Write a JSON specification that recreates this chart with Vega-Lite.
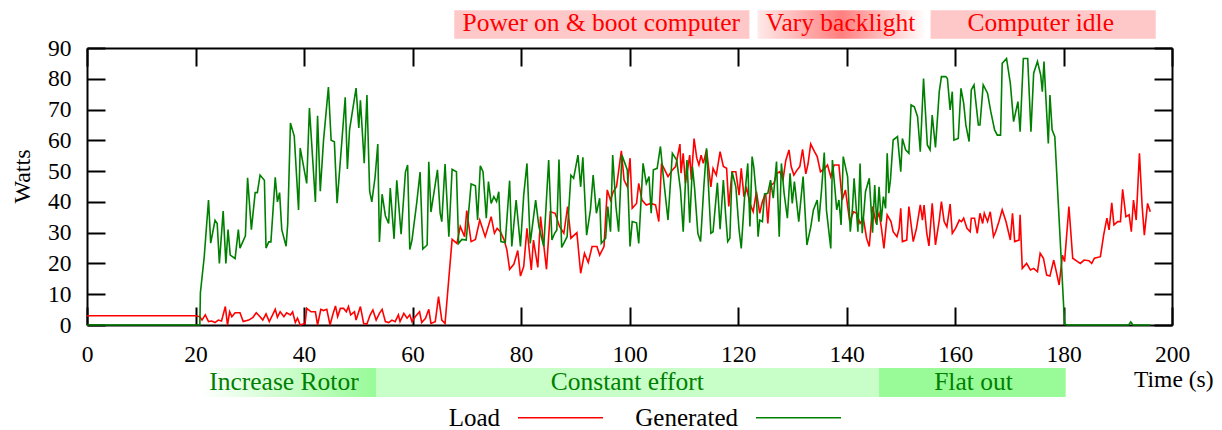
{
  "$schema": "https://vega.github.io/schema/vega-lite/v6.json",
  "width": 1085,
  "height": 277,
  "autosize": {"type": "none"},
  "padding": {"left": 87, "top": 48, "right": 50, "bottom": 105},
  "background": "white",
  "config": {
    "font": "Liberation Serif, Times New Roman, serif",
    "view": {"stroke": null},
    "text": {"font": "Liberation Serif, Times New Roman, serif"},
    "axis": {
      "domainColor": "black", "domainWidth": 2, "tickColor": "black", "tickWidth": 2, "tickSize": -18,
      "labelColor": "black", "labelFontSize": 23.5, "labelFont": "Liberation Serif, Times New Roman, serif", "grid": false,
      "titleColor": "black", "titleFont": "Liberation Serif, Times New Roman, serif", "titleFontSize": 24, "titleFontWeight": "normal",
      "labelFlush": false, "labelOverlap": false
    },
    "legend": {"labelFont": "Liberation Serif, Times New Roman, serif"}
  },
  "resolve": {"axis": {"x": "independent", "y": "independent"}},
  "datasets": {
    "tops": [
      {"label": "Power on & boot computer", "start": 67.7, "end": 122.1, "mid": 94.8},
      {"label": "Vary backlight", "start": 123.6, "end": 154.6, "mid": 138.9},
      {"label": "Computer idle", "start": 155.5, "end": 197.0, "mid": 175.8}
    ],
    "bottoms": [
      {"label": "Increase Rotor", "start": 20.8, "end": 53.3, "mid": 36.3},
      {"label": "Constant effort", "start": 53.3, "end": 146.0, "mid": 99.6},
      {"label": "Flat out", "start": 146.0, "end": 180.4, "mid": 163.4}
    ],
    "power": [
      {"t":0,"s":"Load","w":3},{"t":20,"s":"Load","w":3},{"t":20.8,"s":"Load","w":2.7},{"t":21.2,"s":"Load","w":1.6},{"t":21.8,"s":"Load","w":3.3},{"t":22.4,"s":"Load","w":1.1},{"t":23.0,"s":"Load","w":1.3},{"t":23.6,"s":"Load","w":0.8},{"t":24.2,"s":"Load","w":1.6},{"t":24.8,"s":"Load","w":1.3},{"t":25.5,"s":"Load","w":6},{"t":25.9,"s":"Load","w":0},{"t":26.3,"s":"Load","w":4.3},{"t":26.7,"s":"Load","w":2.7},{"t":27.3,"s":"Load","w":4},{"t":28.2,"s":"Load","w":4},{"t":28.8,"s":"Load","w":1.1},{"t":29.8,"s":"Load","w":1.6},{"t":30.6,"s":"Load","w":2.5},{"t":31.2,"s":"Load","w":4},{"t":31.9,"s":"Load","w":2.7},{"t":32.4,"s":"Load","w":1.6},{"t":33.0,"s":"Load","w":3.6},{"t":33.6,"s":"Load","w":1.1},{"t":34.3,"s":"Load","w":3.6},{"t":34.7,"s":"Load","w":5.1},{"t":35.1,"s":"Load","w":2.5},{"t":35.6,"s":"Load","w":4.3},{"t":36.3,"s":"Load","w":2.7},{"t":36.8,"s":"Load","w":4},{"t":37.5,"s":"Load","w":3.3},{"t":37.9,"s":"Load","w":4.3},{"t":38.4,"s":"Load","w":0.8},{"t":38.8,"s":"Load","w":2.2},{"t":39.3,"s":"Load","w":0},{"t":40.2,"s":"Load","w":0.5},{"t":40.5,"s":"Load","w":5.4},{"t":41.3,"s":"Load","w":4.3},{"t":42.1,"s":"Load","w":4.3},{"t":42.5,"s":"Load","w":0},{"t":43.1,"s":"Load","w":5.1},{"t":43.6,"s":"Load","w":4.7},{"t":44.2,"s":"Load","w":5.1},{"t":44.8,"s":"Load","w":0},{"t":45.3,"s":"Load","w":3.3},{"t":45.8,"s":"Load","w":6.2},{"t":46.2,"s":"Load","w":2.7},{"t":46.7,"s":"Load","w":5.4},{"t":47.3,"s":"Load","w":5.4},{"t":47.8,"s":"Load","w":4.3},{"t":48.2,"s":"Load","w":6},{"t":48.6,"s":"Load","w":3.3},{"t":49.3,"s":"Load","w":4.3},{"t":49.6,"s":"Load","w":1.6},{"t":50.4,"s":"Load","w":6},{"t":51.0,"s":"Load","w":0.5},{"t":51.6,"s":"Load","w":0.3},{"t":52.2,"s":"Load","w":3.3},{"t":52.7,"s":"Load","w":4.9},{"t":53.3,"s":"Load","w":1.6},{"t":53.9,"s":"Load","w":3.8},{"t":54.4,"s":"Load","w":5.1},{"t":55.0,"s":"Load","w":1.1},{"t":55.6,"s":"Load","w":0.8},{"t":56.2,"s":"Load","w":1.6},{"t":56.8,"s":"Load","w":1.1},{"t":57.4,"s":"Load","w":3.3},{"t":57.7,"s":"Load","w":1.1},{"t":58.4,"s":"Load","w":3.8},{"t":59.0,"s":"Load","w":2.2},{"t":59.5,"s":"Load","w":3.3},{"t":59.9,"s":"Load","w":1.1},{"t":60.5,"s":"Load","w":2.7},{"t":61.3,"s":"Load","w":4.3},{"t":61.7,"s":"Load","w":0.8},{"t":62.4,"s":"Load","w":2.2},{"t":63.0,"s":"Load","w":5.1},{"t":63.4,"s":"Load","w":0.5},{"t":64.2,"s":"Load","w":1.1},{"t":64.8,"s":"Load","w":9.2},{"t":65.4,"s":"Load","w":1.6},{"t":66.0,"s":"Load","w":0.5},{"t":67.3,"s":"Load","w":27.8},{"t":68.2,"s":"Load","w":26.5},{"t":68.8,"s":"Load","w":32},{"t":69.6,"s":"Load","w":28.7},{"t":70.0,"s":"Load","w":37.2},{"t":70.8,"s":"Load","w":27.1},{"t":71.6,"s":"Load","w":27.8},{"t":72.4,"s":"Load","w":34.1},{"t":73.4,"s":"Load","w":28.7},{"t":74.5,"s":"Load","w":35.2},{"t":75.1,"s":"Load","w":29.8},{"t":75.6,"s":"Load","w":31.4},{"t":76.2,"s":"Load","w":30.3},{"t":76.9,"s":"Load","w":27.6},{"t":77.4,"s":"Load","w":24.4},{"t":77.9,"s":"Load","w":18.1},{"t":78.7,"s":"Load","w":19.8},{"t":79.4,"s":"Load","w":24.2},{"t":79.9,"s":"Load","w":15.9},{"t":80.5,"s":"Load","w":19},{"t":81.1,"s":"Load","w":31.4},{"t":81.9,"s":"Load","w":17.9},{"t":82.3,"s":"Load","w":27.6},{"t":83.1,"s":"Load","w":18.7},{"t":83.6,"s":"Load","w":35.2},{"t":84.7,"s":"Load","w":18.1},{"t":85.4,"s":"Load","w":36.8},{"t":86.3,"s":"Load","w":36.3},{"t":87.1,"s":"Load","w":32},{"t":87.9,"s":"Load","w":29.8},{"t":88.6,"s":"Load","w":38.5},{"t":89.2,"s":"Load","w":28.2},{"t":90.3,"s":"Load","w":30},{"t":91.0,"s":"Load","w":16.8},{"t":91.7,"s":"Load","w":23.3},{"t":92.4,"s":"Load","w":20.3},{"t":93.1,"s":"Load","w":25.5},{"t":94.0,"s":"Load","w":25.5},{"t":94.5,"s":"Load","w":22.7},{"t":95.3,"s":"Load","w":25.5},{"t":95.9,"s":"Load","w":43.9},{"t":96.5,"s":"Load","w":40.6},{"t":97.0,"s":"Load","w":43.3},{"t":97.6,"s":"Load","w":44.9},{"t":98.5,"s":"Load","w":56.6},{"t":99.0,"s":"Load","w":47.1},{"t":99.6,"s":"Load","w":44.9},{"t":100.1,"s":"Load","w":54.2},{"t":100.5,"s":"Load","w":37.9},{"t":101.3,"s":"Load","w":39.5},{"t":101.7,"s":"Load","w":46},{"t":102.3,"s":"Load","w":40.6},{"t":103.1,"s":"Load","w":39},{"t":103.9,"s":"Load","w":39.5},{"t":104.8,"s":"Load","w":39},{"t":105.4,"s":"Load","w":33.6},{"t":105.9,"s":"Load","w":52.5},{"t":107.1,"s":"Load","w":48.2},{"t":107.9,"s":"Load","w":50.4},{"t":108.5,"s":"Load","w":51.5},{"t":109.3,"s":"Load","w":58.8},{"t":109.5,"s":"Load","w":49.3},{"t":109.9,"s":"Load","w":55.8},{"t":110.3,"s":"Load","w":46},{"t":110.8,"s":"Load","w":51.5},{"t":111.1,"s":"Load","w":55.2},{"t":111.4,"s":"Load","w":47.1},{"t":111.9,"s":"Load","w":60.6},{"t":112.4,"s":"Load","w":54.2},{"t":112.8,"s":"Load","w":52},{"t":113.2,"s":"Load","w":55.2},{"t":113.6,"s":"Load","w":52.5},{"t":114.2,"s":"Load","w":56.9},{"t":115.0,"s":"Load","w":44.9},{"t":115.4,"s":"Load","w":50.9},{"t":116.0,"s":"Load","w":48.7},{"t":116.7,"s":"Load","w":56.3},{"t":117.3,"s":"Load","w":51.5},{"t":117.9,"s":"Load","w":50.9},{"t":118.3,"s":"Load","w":38.5},{"t":118.9,"s":"Load","w":49.8},{"t":119.6,"s":"Load","w":49.8},{"t":120.2,"s":"Load","w":42.2},{"t":120.6,"s":"Load","w":50.9},{"t":121.1,"s":"Load","w":41.7},{"t":121.6,"s":"Load","w":44.4},{"t":122.2,"s":"Load","w":39.5},{"t":122.8,"s":"Load","w":36.8},{"t":123.4,"s":"Load","w":43.3},{"t":124.0,"s":"Load","w":36.3},{"t":124.5,"s":"Load","w":40.1},{"t":125.1,"s":"Load","w":42.8},{"t":125.5,"s":"Load","w":33},{"t":126.0,"s":"Load","w":45.5},{"t":126.6,"s":"Load","w":46},{"t":127.2,"s":"Load","w":49.3},{"t":127.7,"s":"Load","w":49.8},{"t":128.3,"s":"Load","w":47.3},{"t":128.8,"s":"Load","w":53.4},{"t":129.4,"s":"Load","w":56.9},{"t":129.8,"s":"Load","w":51.5},{"t":130.3,"s":"Load","w":48.7},{"t":130.9,"s":"Load","w":50.4},{"t":131.4,"s":"Load","w":51.5},{"t":131.9,"s":"Load","w":57.1},{"t":132.5,"s":"Load","w":49.1},{"t":132.9,"s":"Load","w":52.3},{"t":133.4,"s":"Load","w":58.8},{"t":134.1,"s":"Load","w":56.3},{"t":134.6,"s":"Load","w":54.7},{"t":135.2,"s":"Load","w":49.8},{"t":136.0,"s":"Load","w":50.9},{"t":136.5,"s":"Load","w":52},{"t":137.1,"s":"Load","w":48.2},{"t":137.7,"s":"Load","w":52},{"t":138.6,"s":"Load","w":52},{"t":139.2,"s":"Load","w":40.6},{"t":139.8,"s":"Load","w":43.9},{"t":140.6,"s":"Load","w":33.6},{"t":141.3,"s":"Load","w":36.8},{"t":141.9,"s":"Load","w":36.3},{"t":142.5,"s":"Load","w":33},{"t":143.1,"s":"Load","w":34.7},{"t":143.7,"s":"Load","w":28.2},{"t":144.2,"s":"Load","w":25.5},{"t":144.8,"s":"Load","w":38.5},{"t":145.4,"s":"Load","w":33.6},{"t":146.0,"s":"Load","w":36.3},{"t":146.4,"s":"Load","w":32},{"t":146.9,"s":"Load","w":24.9},{"t":147.5,"s":"Load","w":35.8},{"t":148.2,"s":"Load","w":33.6},{"t":148.6,"s":"Load","w":30.3},{"t":149.3,"s":"Load","w":28.7},{"t":149.7,"s":"Load","w":31.4},{"t":150.0,"s":"Load","w":37.9},{"t":150.3,"s":"Load","w":27.1},{"t":151.1,"s":"Load","w":27.6},{"t":151.5,"s":"Load","w":38.5},{"t":152.3,"s":"Load","w":27.1},{"t":152.9,"s":"Load","w":31.4},{"t":153.6,"s":"Load","w":39},{"t":154.0,"s":"Load","w":34.1},{"t":154.3,"s":"Load","w":39},{"t":154.8,"s":"Load","w":29.8},{"t":155.2,"s":"Load","w":25.7},{"t":155.8,"s":"Load","w":39.5},{"t":156.4,"s":"Load","w":26},{"t":157.1,"s":"Load","w":34.1},{"t":157.5,"s":"Load","w":40.1},{"t":158.0,"s":"Load","w":33.6},{"t":158.5,"s":"Load","w":31.9},{"t":159.1,"s":"Load","w":39.3},{"t":159.5,"s":"Load","w":29.8},{"t":160.1,"s":"Load","w":31.4},{"t":160.8,"s":"Load","w":34.1},{"t":161.2,"s":"Load","w":33.6},{"t":161.6,"s":"Load","w":34.7},{"t":162.2,"s":"Load","w":31.4},{"t":162.8,"s":"Load","w":30.3},{"t":163.0,"s":"Load","w":34.7},{"t":163.6,"s":"Load","w":34.7},{"t":164.1,"s":"Load","w":29.8},{"t":164.6,"s":"Load","w":36.3},{"t":165.1,"s":"Load","w":33},{"t":165.4,"s":"Load","w":36.3},{"t":166.0,"s":"Load","w":33.6},{"t":166.5,"s":"Load","w":36.8},{"t":167.1,"s":"Load","w":28.7},{"t":167.5,"s":"Load","w":30.3},{"t":168.1,"s":"Load","w":33.6},{"t":168.7,"s":"Load","w":37.4},{"t":169.4,"s":"Load","w":33.6},{"t":170.2,"s":"Load","w":27.6},{"t":170.6,"s":"Load","w":36.3},{"t":171.0,"s":"Load","w":27.1},{"t":171.8,"s":"Load","w":27.6},{"t":172.0,"s":"Load","w":35.8},{"t":172.4,"s":"Load","w":18.4},{"t":173.2,"s":"Load","w":20},{"t":173.9,"s":"Load","w":17.9},{"t":174.5,"s":"Load","w":18.4},{"t":175.2,"s":"Load","w":17.3},{"t":175.7,"s":"Load","w":23.3},{"t":176.3,"s":"Load","w":21.7},{"t":176.9,"s":"Load","w":16.2},{"t":177.5,"s":"Load","w":15.9},{"t":178.2,"s":"Load","w":21.1},{"t":178.6,"s":"Load","w":17.9},{"t":179.2,"s":"Load","w":13},{"t":179.8,"s":"Load","w":22.7},{"t":180.2,"s":"Load","w":20.6},{"t":181.0,"s":"Load","w":38.5},{"t":181.7,"s":"Load","w":21.7},{"t":182.6,"s":"Load","w":20.6},{"t":183.1,"s":"Load","w":20},{"t":183.8,"s":"Load","w":21.1},{"t":184.7,"s":"Load","w":20.9},{"t":185.2,"s":"Load","w":20},{"t":185.7,"s":"Load","w":21.7},{"t":186.8,"s":"Load","w":22.2},{"t":187.4,"s":"Load","w":29.2},{"t":188.0,"s":"Load","w":34.7},{"t":188.4,"s":"Load","w":30.9},{"t":188.9,"s":"Load","w":39.7},{"t":189.3,"s":"Load","w":32.5},{"t":190.0,"s":"Load","w":33.6},{"t":190.5,"s":"Load","w":33.6},{"t":190.9,"s":"Load","w":44.1},{"t":191.5,"s":"Load","w":35.2},{"t":192.1,"s":"Load","w":35.8},{"t":192.5,"s":"Load","w":30.3},{"t":192.9,"s":"Load","w":40.6},{"t":193.4,"s":"Load","w":34.1},{"t":194.0,"s":"Load","w":55.8},{"t":194.5,"s":"Load","w":38.5},{"t":194.9,"s":"Load","w":29.2},{"t":195.5,"s":"Load","w":39.5},{"t":196.0,"s":"Load","w":36.8},
      {"t":0,"s":"Generated","w":0},{"t":20.8,"s":"Generated","w":0},{"t":20.9,"s":"Generated","w":10.4},{"t":21.6,"s":"Generated","w":22},{"t":22.4,"s":"Generated","w":40.6},{"t":22.8,"s":"Generated","w":26.6},{"t":23.6,"s":"Generated","w":34},{"t":24.0,"s":"Generated","w":33},{"t":24.4,"s":"Generated","w":20},{"t":25.1,"s":"Generated","w":37},{"t":25.6,"s":"Generated","w":20},{"t":26.0,"s":"Generated","w":31},{"t":26.4,"s":"Generated","w":22.7},{"t":27.3,"s":"Generated","w":21.6},{"t":27.9,"s":"Generated","w":31},{"t":28.2,"s":"Generated","w":25},{"t":29.2,"s":"Generated","w":29},{"t":29.6,"s":"Generated","w":47.8},{"t":30.3,"s":"Generated","w":31},{"t":31.0,"s":"Generated","w":43},{"t":31.4,"s":"Generated","w":43},{"t":31.9,"s":"Generated","w":48.7},{"t":32.7,"s":"Generated","w":47},{"t":33.0,"s":"Generated","w":25},{"t":33.5,"s":"Generated","w":27},{"t":33.9,"s":"Generated","w":27},{"t":34.7,"s":"Generated","w":48},{"t":35.1,"s":"Generated","w":40},{"t":35.5,"s":"Generated","w":43},{"t":35.9,"s":"Generated","w":31},{"t":36.7,"s":"Generated","w":25.6},{"t":37.0,"s":"Generated","w":33},{"t":37.5,"s":"Generated","w":65.6},{"t":38.2,"s":"Generated","w":61.4},{"t":39.0,"s":"Generated","w":37.4},{"t":39.3,"s":"Generated","w":57.5},{"t":40.5,"s":"Generated","w":46},{"t":41.0,"s":"Generated","w":70.5},{"t":42.1,"s":"Generated","w":40},{"t":42.5,"s":"Generated","w":68},{"t":43.0,"s":"Generated","w":43.5},{"t":43.6,"s":"Generated","w":60},{"t":44.5,"s":"Generated","w":77.3},{"t":45.0,"s":"Generated","w":60},{"t":45.6,"s":"Generated","w":59.5},{"t":46.1,"s":"Generated","w":39.6},{"t":47.6,"s":"Generated","w":74},{"t":48.0,"s":"Generated","w":50.7},{"t":48.4,"s":"Generated","w":63.5},{"t":49.6,"s":"Generated","w":77},{"t":50.1,"s":"Generated","w":64},{"t":50.4,"s":"Generated","w":73},{"t":51.1,"s":"Generated","w":52.6},{"t":51.6,"s":"Generated","w":74.7},{"t":52.1,"s":"Generated","w":43.5},{"t":52.5,"s":"Generated","w":40},{"t":53.1,"s":"Generated","w":48},{"t":53.6,"s":"Generated","w":58.8},{"t":53.9,"s":"Generated","w":27},{"t":54.4,"s":"Generated","w":42.5},{"t":55.0,"s":"Generated","w":35.5},{"t":55.6,"s":"Generated","w":33},{"t":55.9,"s":"Generated","w":44.5},{"t":56.6,"s":"Generated","w":28},{"t":57.1,"s":"Generated","w":47},{"t":57.9,"s":"Generated","w":29.5},{"t":58.7,"s":"Generated","w":49.7},{"t":59.1,"s":"Generated","w":52},{"t":59.5,"s":"Generated","w":24.5},{"t":59.9,"s":"Generated","w":27.5},{"t":60.8,"s":"Generated","w":40},{"t":61.4,"s":"Generated","w":49.7},{"t":61.9,"s":"Generated","w":24.7},{"t":62.7,"s":"Generated","w":26},{"t":63.0,"s":"Generated","w":53},{"t":63.4,"s":"Generated","w":36.7},{"t":64.6,"s":"Generated","w":50.4},{"t":65.1,"s":"Generated","w":36.3},{"t":65.4,"s":"Generated","w":33.6},{"t":66.0,"s":"Generated","w":52.3},{"t":66.7,"s":"Generated","w":28.7},{"t":67.3,"s":"Generated","w":50.6},{"t":68.1,"s":"Generated","w":49.8},{"t":68.5,"s":"Generated","w":26.5},{"t":69.1,"s":"Generated","w":27.8},{"t":69.9,"s":"Generated","w":27.6},{"t":70.8,"s":"Generated","w":45.8},{"t":71.6,"s":"Generated","w":45.2},{"t":72.0,"s":"Generated","w":34.1},{"t":72.5,"s":"Generated","w":51.7},{"t":73.0,"s":"Generated","w":49.8},{"t":73.6,"s":"Generated","w":34.7},{"t":74.0,"s":"Generated","w":46.6},{"t":74.5,"s":"Generated","w":39.5},{"t":75.0,"s":"Generated","w":41.7},{"t":75.5,"s":"Generated","w":40.1},{"t":75.9,"s":"Generated","w":43.3},{"t":76.3,"s":"Generated","w":27.1},{"t":77.1,"s":"Generated","w":26.8},{"t":77.9,"s":"Generated","w":46.9},{"t":78.3,"s":"Generated","w":25.5},{"t":79.1,"s":"Generated","w":40.6},{"t":79.9,"s":"Generated","w":25.5},{"t":80.5,"s":"Generated","w":42.2},{"t":81.1,"s":"Generated","w":52.5},{"t":81.7,"s":"Generated","w":26.5},{"t":82.7,"s":"Generated","w":40.6},{"t":83.3,"s":"Generated","w":32},{"t":84.2,"s":"Generated","w":25.5},{"t":85.1,"s":"Generated","w":53.6},{"t":85.7,"s":"Generated","w":27.6},{"t":86.2,"s":"Generated","w":29.8},{"t":86.6,"s":"Generated","w":30.9},{"t":87.0,"s":"Generated","w":53.8},{"t":87.5,"s":"Generated","w":25.2},{"t":88.5,"s":"Generated","w":28.7},{"t":89.2,"s":"Generated","w":48.7},{"t":89.7,"s":"Generated","w":47.7},{"t":90.5,"s":"Generated","w":55.2},{"t":91.0,"s":"Generated","w":44.9},{"t":91.4,"s":"Generated","w":54.5},{"t":92.1,"s":"Generated","w":29.2},{"t":92.8,"s":"Generated","w":37.4},{"t":93.3,"s":"Generated","w":48.7},{"t":93.9,"s":"Generated","w":36.3},{"t":94.5,"s":"Generated","w":41.2},{"t":94.8,"s":"Generated","w":26.5},{"t":95.6,"s":"Generated","w":28.2},{"t":96.0,"s":"Generated","w":38.5},{"t":96.5,"s":"Generated","w":30.3},{"t":96.9,"s":"Generated","w":55.2},{"t":97.5,"s":"Generated","w":38.5},{"t":98.0,"s":"Generated","w":30.3},{"t":98.6,"s":"Generated","w":55.2},{"t":99.6,"s":"Generated","w":50.4},{"t":100.1,"s":"Generated","w":25.5},{"t":100.5,"s":"Generated","w":33.6},{"t":101.3,"s":"Generated","w":33.2},{"t":101.7,"s":"Generated","w":26.5},{"t":102.5,"s":"Generated","w":52.5},{"t":103.1,"s":"Generated","w":46},{"t":103.6,"s":"Generated","w":48.2},{"t":104.0,"s":"Generated","w":36.3},{"t":104.4,"s":"Generated","w":50.4},{"t":105.1,"s":"Generated","w":50.9},{"t":105.7,"s":"Generated","w":58},{"t":106.3,"s":"Generated","w":47.1},{"t":107.1,"s":"Generated","w":34.1},{"t":107.9,"s":"Generated","w":55.8},{"t":108.7,"s":"Generated","w":53.6},{"t":109.4,"s":"Generated","w":43.9},{"t":109.9,"s":"Generated","w":30.3},{"t":110.3,"s":"Generated","w":46},{"t":110.6,"s":"Generated","w":53.6},{"t":111.1,"s":"Generated","w":33.2},{"t":111.6,"s":"Generated","w":51.5},{"t":112.0,"s":"Generated","w":44.4},{"t":112.6,"s":"Generated","w":29.8},{"t":113.1,"s":"Generated","w":27.1},{"t":113.7,"s":"Generated","w":44.9},{"t":114.2,"s":"Generated","w":57.4},{"t":115.0,"s":"Generated","w":29.8},{"t":115.4,"s":"Generated","w":30.3},{"t":116.2,"s":"Generated","w":46.2},{"t":116.7,"s":"Generated","w":31.1},{"t":117.3,"s":"Generated","w":47.1},{"t":117.7,"s":"Generated","w":36.3},{"t":118.1,"s":"Generated","w":27.1},{"t":118.5,"s":"Generated","w":28.2},{"t":118.9,"s":"Generated","w":49.8},{"t":119.6,"s":"Generated","w":44.9},{"t":120.2,"s":"Generated","w":30.9},{"t":120.6,"s":"Generated","w":24.9},{"t":121.2,"s":"Generated","w":41.2},{"t":121.8,"s":"Generated","w":52.5},{"t":122.2,"s":"Generated","w":32},{"t":122.6,"s":"Generated","w":54.7},{"t":122.9,"s":"Generated","w":51.5},{"t":123.4,"s":"Generated","w":41.7},{"t":123.7,"s":"Generated","w":28.7},{"t":124.0,"s":"Generated","w":34.1},{"t":124.5,"s":"Generated","w":33.6},{"t":124.9,"s":"Generated","w":42.6},{"t":125.5,"s":"Generated","w":42.8},{"t":126.0,"s":"Generated","w":47.1},{"t":126.5,"s":"Generated","w":41.2},{"t":127.1,"s":"Generated","w":53.1},{"t":127.6,"s":"Generated","w":28.7},{"t":128.0,"s":"Generated","w":52.5},{"t":128.5,"s":"Generated","w":42.8},{"t":129.1,"s":"Generated","w":34.7},{"t":129.6,"s":"Generated","w":49.3},{"t":130.0,"s":"Generated","w":39.5},{"t":130.4,"s":"Generated","w":46.6},{"t":131.2,"s":"Generated","w":33.6},{"t":132.0,"s":"Generated","w":48.2},{"t":132.7,"s":"Generated","w":26},{"t":133.4,"s":"Generated","w":31.7},{"t":133.9,"s":"Generated","w":37.4},{"t":134.6,"s":"Generated","w":40.6},{"t":134.9,"s":"Generated","w":33.6},{"t":135.4,"s":"Generated","w":43.9},{"t":135.9,"s":"Generated","w":56},{"t":136.3,"s":"Generated","w":37.4},{"t":137.1,"s":"Generated","w":24.9},{"t":137.4,"s":"Generated","w":53.6},{"t":138.2,"s":"Generated","w":37.4},{"t":138.6,"s":"Generated","w":40.6},{"t":139.0,"s":"Generated","w":32.5},{"t":139.4,"s":"Generated","w":54.7},{"t":140.2,"s":"Generated","w":48.2},{"t":140.7,"s":"Generated","w":30.3},{"t":141.1,"s":"Generated","w":37.9},{"t":141.4,"s":"Generated","w":47.7},{"t":142.1,"s":"Generated","w":30.3},{"t":142.5,"s":"Generated","w":52.5},{"t":142.9,"s":"Generated","w":29.8},{"t":143.5,"s":"Generated","w":43.3},{"t":144.2,"s":"Generated","w":47.7},{"t":144.8,"s":"Generated","w":30},{"t":145.2,"s":"Generated","w":45.5},{"t":145.6,"s":"Generated","w":32.5},{"t":146.0,"s":"Generated","w":44.9},{"t":146.4,"s":"Generated","w":33.6},{"t":146.8,"s":"Generated","w":41.7},{"t":147.2,"s":"Generated","w":37.9},{"t":147.5,"s":"Generated","w":55.8},{"t":147.8,"s":"Generated","w":42.8},{"t":148.1,"s":"Generated","w":47.1},{"t":148.6,"s":"Generated","w":60.1},{"t":149.4,"s":"Generated","w":61.2},{"t":150.0,"s":"Generated","w":49.8},{"t":150.3,"s":"Generated","w":60.6},{"t":150.9,"s":"Generated","w":56.9},{"t":151.5,"s":"Generated","w":55.8},{"t":151.9,"s":"Generated","w":71.5},{"t":152.5,"s":"Generated","w":70.9},{"t":153.1,"s":"Generated","w":67.7},{"t":153.6,"s":"Generated","w":56.3},{"t":154.2,"s":"Generated","w":80.1},{"t":154.9,"s":"Generated","w":58.5},{"t":155.4,"s":"Generated","w":56.9},{"t":155.8,"s":"Generated","w":68.2},{"t":156.4,"s":"Generated","w":57.7},{"t":157.1,"s":"Generated","w":75.8},{"t":157.5,"s":"Generated","w":80.7},{"t":158.3,"s":"Generated","w":80.7},{"t":158.6,"s":"Generated","w":80.1},{"t":159.1,"s":"Generated","w":69.9},{"t":159.5,"s":"Generated","w":75.8},{"t":159.8,"s":"Generated","w":60.1},{"t":160.6,"s":"Generated","w":60.6},{"t":161.1,"s":"Generated","w":76.9},{"t":161.6,"s":"Generated","w":72},{"t":162.0,"s":"Generated","w":65},{"t":162.6,"s":"Generated","w":59.6},{"t":163.0,"s":"Generated","w":76.4},{"t":163.5,"s":"Generated","w":78},{"t":164.3,"s":"Generated","w":65},{"t":164.6,"s":"Generated","w":65},{"t":165.2,"s":"Generated","w":78},{"t":166.0,"s":"Generated","w":75.3},{"t":166.6,"s":"Generated","w":69.3},{"t":167.3,"s":"Generated","w":63.4},{"t":167.8,"s":"Generated","w":61.7},{"t":168.4,"s":"Generated","w":61.7},{"t":168.7,"s":"Generated","w":85},{"t":169.5,"s":"Generated","w":86.6},{"t":170.2,"s":"Generated","w":78.5},{"t":170.8,"s":"Generated","w":66.1},{"t":171.2,"s":"Generated","w":69.3},{"t":171.6,"s":"Generated","w":72.6},{"t":172.0,"s":"Generated","w":62.8},{"t":172.6,"s":"Generated","w":86.6},{"t":173.4,"s":"Generated","w":86.6},{"t":174.0,"s":"Generated","w":62.8},{"t":174.5,"s":"Generated","w":81.8},{"t":175.2,"s":"Generated","w":85.6},{"t":175.8,"s":"Generated","w":81.2},{"t":176.1,"s":"Generated","w":75.8},{"t":176.4,"s":"Generated","w":85.6},{"t":177.2,"s":"Generated","w":59},{"t":177.5,"s":"Generated","w":74.7},{"t":177.9,"s":"Generated","w":63.4},{"t":178.4,"s":"Generated","w":61.2},{"t":180.2,"s":"Generated","w":0.3},{"t":180.7,"s":"Generated","w":0},{"t":192.0,"s":"Generated","w":0},{"t":192.4,"s":"Generated","w":1},{"t":192.8,"s":"Generated","w":0},{"t":196.0,"s":"Generated","w":0}
    ]
  },
  "layer": [
    {
      "data": {"name": "tops"},
      "transform": [{"filter": "datum.label !== 'Vary backlight'"}],
      "mark": {"type": "rect", "color": "#ffc8c8"},
      "encoding": {
        "x": {"field": "start", "type": "quantitative", "scale": {"domain": [0, 200], "nice": false},
              "axis": {"orient": "top", "values": [0,20,40,60,80,100,120,140,160,180,200], "labels": false, "title": null}},
        "x2": {"field": "end"},
        "y": {"datum": 102.3, "type": "quantitative", "scale": {"domain": [0, 90], "nice": false},
              "axis": {"orient": "right", "values": [0,10,20,30,40,50,60,70,80,90], "labels": false, "title": null}},
        "y2": {"datum": 93.0}
      }
    },
    {
      "data": {"name": "tops"},
      "transform": [{"filter": "datum.label === 'Vary backlight'"}],
      "mark": {"type": "rect", "color": {"gradient": "linear", "x1": 0, "y1": 0, "x2": 1, "y2": 0,
        "stops": [{"offset": 0, "color": "#ffeaea"}, {"offset": 0.5, "color": "#ff7f7f"}, {"offset": 1, "color": "#ffffff"}]}},
      "encoding": {
        "x": {"field": "start", "type": "quantitative", "scale": {"domain": [0, 200], "nice": false}, "axis": null},
        "x2": {"field": "end"},
        "y": {"datum": 102.3, "type": "quantitative", "scale": {"domain": [0, 90], "nice": false}, "axis": null},
        "y2": {"datum": 93.0}
      }
    },
    {
      "data": {"name": "tops"},
      "mark": {"type": "text", "color": "#ff0000", "fontSize": 25.5, "font": "Liberation Serif, Times New Roman, serif", "align": "center", "baseline": "alphabetic"},
      "encoding": {
        "x": {"field": "mid", "type": "quantitative", "scale": {"domain": [0, 200], "nice": false}, "axis": null},
        "y": {"datum": 95.5, "type": "quantitative", "scale": {"domain": [0, 90], "nice": false}, "axis": null},
        "text": {"field": "label"}
      }
    },
    {
      "data": {"name": "bottoms"},
      "transform": [{"filter": "datum.label === 'Constant effort'"}],
      "mark": {"type": "rect", "color": "#c8ffc8"},
      "encoding": {
        "x": {"field": "start", "type": "quantitative", "scale": {"domain": [0, 200], "nice": false}, "axis": null},
        "x2": {"field": "end"},
        "y": {"datum": -14.0, "type": "quantitative", "scale": {"domain": [0, 90], "nice": false}, "axis": null},
        "y2": {"datum": -23.4}
      }
    },
    {
      "data": {"name": "bottoms"},
      "transform": [{"filter": "datum.label === 'Flat out'"}],
      "mark": {"type": "rect", "color": "#98fb98"},
      "encoding": {
        "x": {"field": "start", "type": "quantitative", "scale": {"domain": [0, 200], "nice": false}, "axis": null},
        "x2": {"field": "end"},
        "y": {"datum": -14.0, "type": "quantitative", "scale": {"domain": [0, 90], "nice": false}, "axis": null},
        "y2": {"datum": -23.4}
      }
    },
    {
      "data": {"name": "bottoms"},
      "transform": [{"filter": "datum.label === 'Increase Rotor'"}],
      "mark": {"type": "rect", "color": {"gradient": "linear", "x1": 0, "y1": 0, "x2": 1, "y2": 0,
        "stops": [{"offset": 0, "color": "#ffffff"}, {"offset": 1, "color": "#98fb98"}]}},
      "encoding": {
        "x": {"field": "start", "type": "quantitative", "scale": {"domain": [0, 200], "nice": false}, "axis": null},
        "x2": {"field": "end"},
        "y": {"datum": -14.0, "type": "quantitative", "scale": {"domain": [0, 90], "nice": false}, "axis": null},
        "y2": {"datum": -23.4}
      }
    },
    {
      "data": {"name": "bottoms"},
      "mark": {"type": "text", "color": "#008000", "fontSize": 25.5, "font": "Liberation Serif, Times New Roman, serif", "align": "center", "baseline": "alphabetic"},
      "encoding": {
        "x": {"field": "mid", "type": "quantitative", "scale": {"domain": [0, 200], "nice": false}, "axis": null},
        "y": {"datum": -21.1, "type": "quantitative", "scale": {"domain": [0, 90], "nice": false}, "axis": null},
        "text": {"field": "label"}
      }
    },
    {
      "data": {"name": "power"},
      "mark": {"type": "line", "strokeWidth": 1.6},
      "encoding": {
        "x": {"field": "t", "type": "quantitative", "scale": {"domain": [0, 200], "nice": false},
              "axis": {"orient": "bottom", "values": [0,20,40,60,80,100,120,140,160,180,200], "labelPadding": 35,
                       "title": "Time (s)", "titleX": 1126, "titleY": 54, "titleFontSize": 23.5, "titleAlign": "right", "titleBaseline": "middle"}},
        "y": {"field": "w", "type": "quantitative", "scale": {"domain": [0, 90], "nice": false},
              "axis": {"orient": "left", "values": [0,10,20,30,40,50,60,70,80,90], "labelPadding": 34,
                       "title": "Watts", "titleX": -65, "titleY": 128, "titleAngle": -90, "titleAlign": "center", "titleBaseline": "middle"}},
        "color": {"field": "s", "type": "nominal", "sort": ["Load", "Generated"],
                  "scale": {"domain": ["Load", "Generated"], "range": ["#ff0000", "#008000"]},
                  "legend": {"orient": "none", "legendX": 430, "legendY": 326, "direction": "horizontal", "title": null,
                             "symbolType": "stroke", "symbolSize": 7225, "symbolStrokeWidth": 1.6,
                             "labelFontSize": 25, "labelFont": "Liberation Serif, Times New Roman, serif", "labelColor": "black",
                             "labelAlign": "right", "labelOffset": -104, "columnPadding": 28, "labelLimit": 300}}
      }
    }
  ]
}
